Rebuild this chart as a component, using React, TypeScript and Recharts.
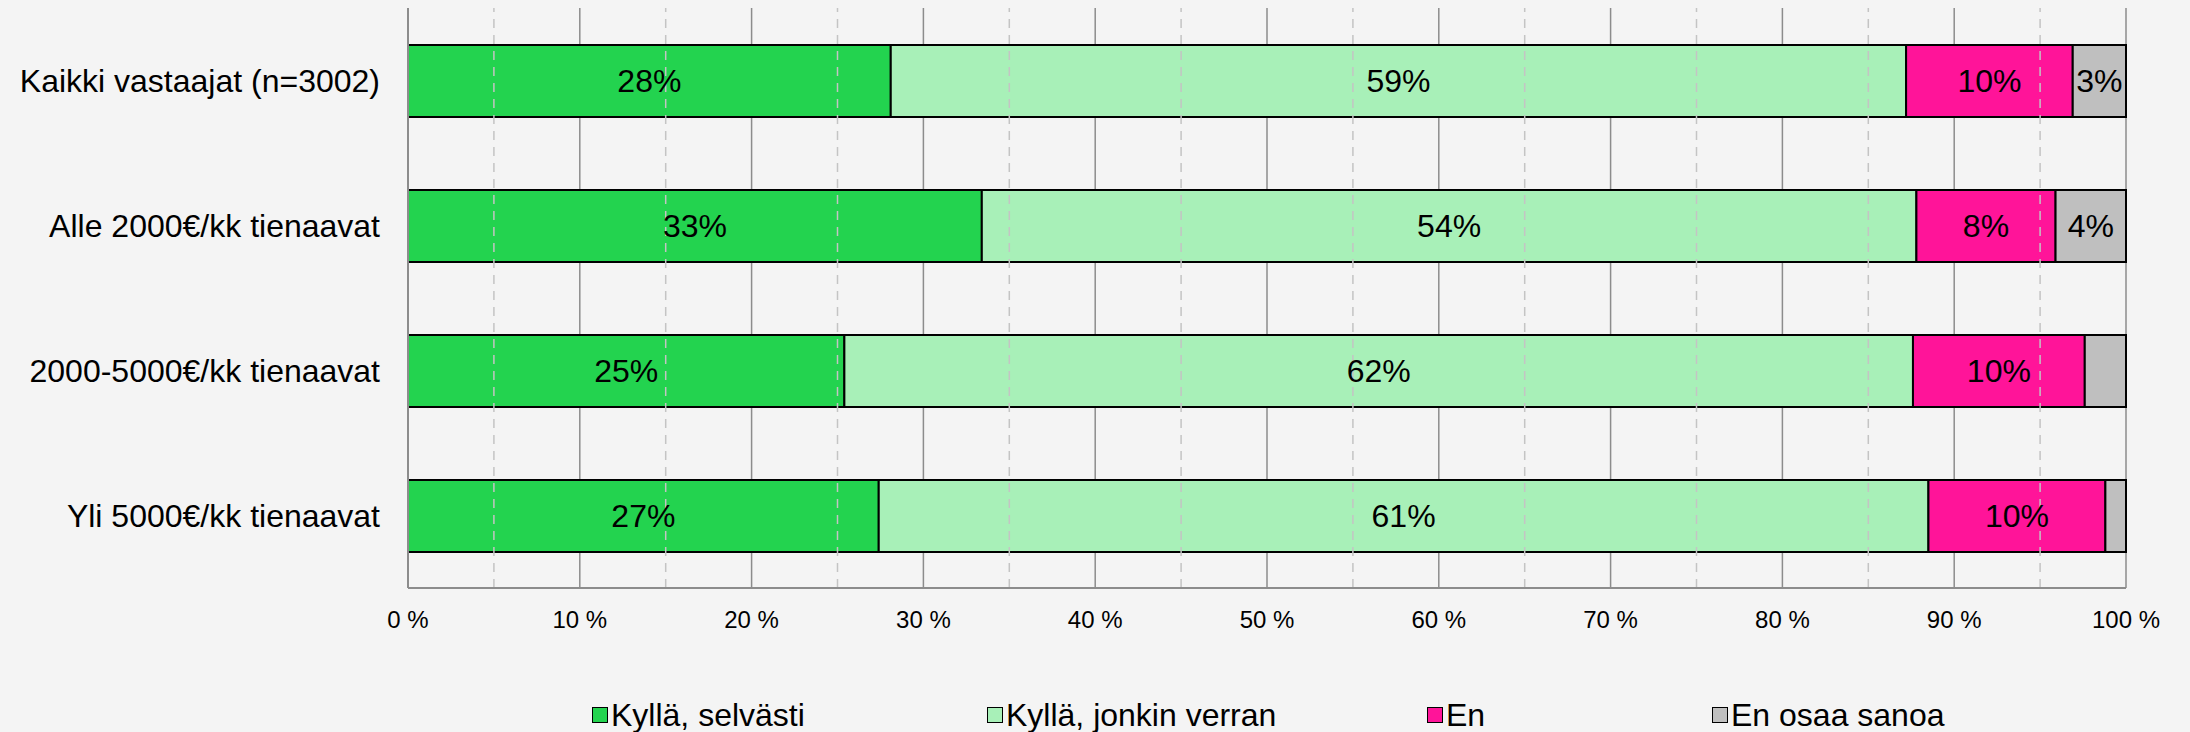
import React from 'react';
import {
  BarChart,
  Bar,
  XAxis,
  YAxis,
  CartesianGrid,
  ReferenceLine,
  LabelList,
  Legend,
} from 'recharts';

// groups on the y axis, top to bottom
const groups = [
  'Kaikki vastaajat (n=3002)',
  'Alle 2000€/kk tienaavat',
  '2000-5000€/kk tienaavat',
  'Yli 5000€/kk tienaavat',
];

// share of answers per group (%)
const selvasti = [28.1, 33.4, 25.4, 27.4];
const jonkinVerran = [59.1, 54.4, 62.2, 61.1];
const en = [9.7, 8.1, 10.0, 10.3];
const eiOsaa = [3.1, 4.1, 2.4, 1.2];

const majorTicks = [0, 10, 20, 30, 40, 50, 60, 70, 80, 90, 100];
const minorTicks = [5, 15, 25, 35, 45, 55, 65, 75, 85, 95];

const series = [
  { key: 'selvasti', name: 'Kyllä, selvästi', color: '#23d34f' },
  { key: 'jonkinVerran', name: 'Kyllä, jonkin verran', color: '#a8f0b8' },
  { key: 'en', name: 'En', color: '#ff1499' },
  { key: 'eiOsaa', name: 'En osaa sanoa', color: '#bfbfbf' },
];

// legend item left edges (px), Excel-style uneven spacing
const legendLeft = [592, 987, 1427, 1712];

const data = groups.map((name, i) => ({
  name,
  selvasti: selvasti[i],
  jonkinVerran: jonkinVerran[i],
  en: en[i],
  eiOsaa: eiOsaa[i],
}));

const FONT = '"Liberation Sans", Arial, sans-serif';

const pctLabel = (v: any) => {
  const r = Math.round(Number(v));
  return r < 3 ? '' : `${r}%`;
};

const LegendContent = () => (
  <div style={{ position: 'relative', width: 2190, height: 36, fontFamily: FONT }}>
    {series.map((s, i) => (
      <div
        key={s.key}
        style={{
          position: 'absolute',
          left: legendLeft[i],
          top: -1,
          height: 36,
          display: 'flex',
          alignItems: 'center',
          whiteSpace: 'nowrap',
        }}
      >
        <span
          style={{
            display: 'inline-block',
            width: 14,
            height: 14,
            background: s.color,
            border: '1.5px solid #000',
            marginRight: 3,
          }}
        />
        <span style={{ fontSize: 32, color: '#000' }}>{s.name}</span>
      </div>
    ))}
  </div>
);

export default function App() {
  return (
    <div
      style={{
        position: 'absolute',
        left: 0,
        top: 0,
        width: 2190,
        height: 732,
        background: '#f4f4f4',
        fontFamily: FONT,
      }}
    >
      <BarChart
        width={2190}
        height={732}
        data={data}
        layout="vertical"
        margin={{ top: 8, right: 64, left: 0, bottom: 0 }}
        barSize={72}
      >
        <CartesianGrid horizontal={false} vertical stroke="#8c8c8c" strokeWidth={1.5} />
        {minorTicks.map((t) => (
          <ReferenceLine
            key={t}
            x={t}
            stroke="#c4c4c4"
            strokeWidth={1.5}
            strokeDasharray="9 7"
          />
        ))}
        <XAxis
          type="number"
          domain={[0, 100]}
          ticks={majorTicks}
          tickFormatter={(v) => `${v} %`}
          tick={{ fontSize: 24, fill: '#000', fontFamily: FONT }}
          axisLine={{ stroke: '#8c8c8c', strokeWidth: 2 }}
          tickLine={false}
          tickMargin={17}
          height={144}
          interval={0}
        />
        <XAxis
          xAxisId="top"
          orientation="top"
          type="number"
          domain={[0, 100]}
          tick={false}
          tickLine={false}
          axisLine={{ stroke: '#8c8c8c', strokeWidth: 2 }}
          height={0}
        />
        <YAxis
          type="category"
          dataKey="name"
          width={408}
          tick={{ fontSize: 32, fill: '#000', fontFamily: FONT }}
          axisLine={{ stroke: '#8c8c8c', strokeWidth: 2 }}
          tickLine={false}
          tickMargin={22}
          interval={0}
        />
        {series.map((s) => (
          <Bar
            key={s.key}
            dataKey={s.key}
            name={s.name}
            stackId="a"
            fill={s.color}
            stroke="#000"
            strokeWidth={2}
            isAnimationActive={false}
          >
            <LabelList
              dataKey={s.key}
              position="center"
              formatter={pctLabel}
              fill="#000"
              fontSize={32}
              fontFamily={FONT}
            />
          </Bar>
        ))}
        <Legend
          layout="horizontal"
          verticalAlign="middle"
          align="center"
          content={<LegendContent />}
          wrapperStyle={{ top: 698, left: 0, width: 2190 }}
        />
      </BarChart>
    </div>
  );
}
